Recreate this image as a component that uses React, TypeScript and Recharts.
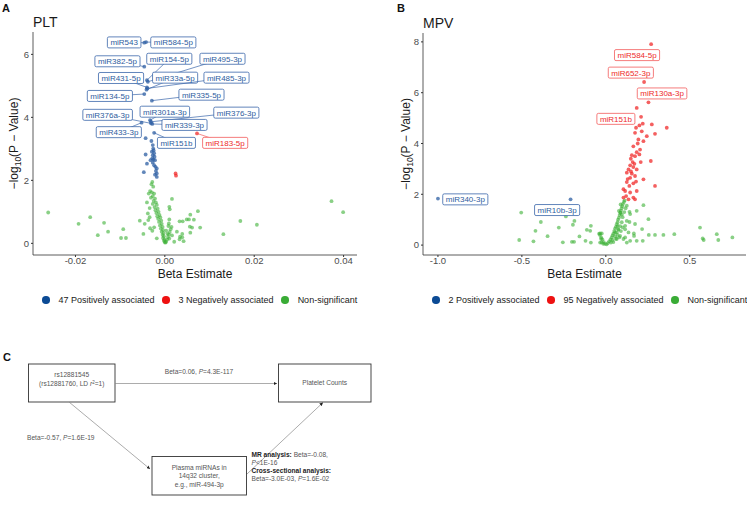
import React from "react";
import { ScatterChart, Scatter, XAxis, YAxis, Legend, Label } from "recharts";

const FONT = "'Liberation Sans', Arial, sans-serif";

// ---- PLT (panel A) ----
const PLT_POS: [number, number][] = [
  [-0.0046, 6.37], [-0.0042, 6.39], [-0.0046, 5.61], [-0.004, 5.18], [-0.0038, 5.13], [-0.004, 4.95],
  [-0.0041, 4.88], [-0.0039, 4.92], [-0.0046, 4.74], [-0.0029, 4.53], [-0.0033, 3.91], [-0.0031, 3.86],
  [-0.0031, 3.81], [-0.0028, 3.79], [-0.0052, 3.83], [-0.0024, 3.51], [-0.0043, 3.34], [-0.0027, 3.12],
  [-0.0026, 3.01], [-0.0029, 2.91], [-0.0024, 2.86], [-0.0027, 2.8], [-0.0023, 2.75], [-0.0026, 2.66],
  [-0.0022, 2.64], [-0.0027, 2.56], [-0.0024, 2.48], [-0.0021, 2.43], [-0.0018, 2.38], [-0.0018, 2.22],
  [-0.0018, 2.11], [-0.0047, 2.26], [-0.004, 2.53], [-0.0043, 2.82], [-0.0032, 2.64], [-0.003, 3.25],
  [-0.0025, 2.95], [-0.002, 2.3], [-0.0028, 2.7], [-0.0022, 2.18],
];
const PLT_NEG: [number, number][] = [[0.0024, 2.22], [0.0025, 2.15], [0.0072, 3.49]];
const PLT_NS: [number, number][] = [
  [-0.0261, 0.98], [-0.0193, 0.62], [-0.0167, 0.83], [-0.015, 0.26], [-0.0136, 0.65], [-0.0127, 0.37],
  [-0.0098, 0.17], [-0.0093, 0.45], [-0.0087, 0.17], [-0.0056, 0.72], [-0.0048, 0.3], [-0.0037, 0.74],
  [-0.0034, 0.83], [-0.0033, 0.48], [-0.0024, 0.51], [-0.0018, 0.16], [0.0016, 1.41], [0.0011, 1.08],
  [0.001, 0.76], [0.0009, 0.63], [0.0027, 0.37], [0.0021, 0.05], [0.0033, 0.7], [0.004, 0.7],
  [0.0034, 0.21], [0.0039, 0.19], [0.0042, 0.07], [0.0033, 0.13], [0.0039, 0.3], [0.0049, 0.76],
  [0.0054, 0.76], [0.0057, 0.91], [0.0065, 0.75], [0.0074, 1.02], [0.0056, 0.53], [0.0061, 0.5],
  [0.0079, 0.5], [0.0057, 0.34], [0.0131, 0.29], [0.0169, 0.71], [0.0206, 0.59], [0.0373, 1.34],
  [0.0399, 0.99],
  [-0.0028, 1.95], [-0.003, 1.88], [-0.0026, 1.8], [-0.0033, 1.66], [-0.0029, 1.62], [-0.0024, 1.58],
  [-0.0027, 1.5], [-0.0031, 1.45], [-0.0022, 1.42], [-0.0025, 1.35], [-0.002, 1.3], [-0.0027, 1.25],
  [-0.0018, 1.22], [-0.0023, 1.15], [-0.0016, 1.1], [-0.0021, 1.05], [-0.0014, 1.0], [-0.0019, 0.96],
  [-0.0012, 0.9], [-0.0017, 0.86], [-0.001, 0.82], [-0.0015, 0.78], [-0.0008, 0.72], [-0.0013, 0.68],
  [-0.0007, 0.62], [-0.0011, 0.57], [-0.0005, 0.52], [-0.0009, 0.47], [-0.0004, 0.42], [-0.0007, 0.37],
  [-0.0003, 0.32], [-0.0005, 0.27], [-0.0002, 0.22], [-0.0004, 0.17], [-0.0001, 0.12], [-0.0002, 0.08],
  [0.0, 0.04], [0.0001, 0.02], [-0.0036, 1.58], [-0.004, 1.3], [-0.0034, 1.12], [-0.0045, 0.62],
  [-0.0038, 0.95], [-0.0028, 0.4], [0.0003, 0.05], [0.0005, 0.12], [0.0007, 0.2], [0.0009, 0.28],
  [0.0011, 0.36], [0.0013, 0.45], [0.0015, 0.52], [0.0006, 0.3], [0.001, 0.15], [0.0016, 0.25],
  [0.0003, 0.4], [0.0008, 0.55], [0.001, 1.16],
];
const PLT_LABELS: { name: string; x: number; y: number; neg?: boolean }[] = [
  { name: "miR543", x: -0.0046, y: 6.37 },
  { name: "miR584-5p", x: -0.0042, y: 6.39 },
  { name: "miR382-5p", x: -0.0046, y: 5.61 },
  { name: "miR154-5p", x: -0.004, y: 5.18 },
  { name: "miR495-3p", x: -0.0038, y: 5.13 },
  { name: "miR431-5p", x: -0.004, y: 4.95 },
  { name: "miR33a-5p", x: -0.0041, y: 4.88 },
  { name: "miR485-3p", x: -0.0039, y: 4.92 },
  { name: "miR134-5p", x: -0.0046, y: 4.74 },
  { name: "miR335-5p", x: -0.0029, y: 4.53 },
  { name: "miR301a-3p", x: -0.0033, y: 3.91 },
  { name: "miR376-3p", x: -0.0031, y: 3.86 },
  { name: "miR376a-3p", x: -0.0031, y: 3.81 },
  { name: "miR339-3p", x: -0.0028, y: 3.79 },
  { name: "miR433-3p", x: -0.0052, y: 3.83 },
  { name: "miR151b", x: -0.0024, y: 3.51 },
  { name: "miR183-5p", x: 0.0072, y: 3.49, neg: true },
];
// where each label box sits (data units)
const PLT_LABEL_AT: Record<string, [number, number]> = {
  miR543: [-0.0091, 6.38], "miR584-5p": [0.0019, 6.38], "miR382-5p": [-0.0106, 5.78],
  "miR154-5p": [0.001, 5.86], "miR495-3p": [0.0129, 5.86], "miR431-5p": [-0.0098, 5.25],
  "miR33a-5p": [0.0023, 5.26], "miR485-3p": [0.0138, 5.26], "miR134-5p": [-0.0123, 4.68],
  "miR335-5p": [0.0082, 4.72], "miR301a-3p": [0.0, 4.18], "miR376-3p": [0.016, 4.15],
  "miR376a-3p": [-0.0128, 4.08], "miR339-3p": [0.0044, 3.76], "miR433-3p": [-0.0103, 3.53],
  miR151b: [0.0026, 3.19], "miR183-5p": [0.0135, 3.19],
};
const PLT_XTICKS = [-0.02, 0, 0.02, 0.04];
const PLT_YTICKS = [0, 2, 4, 6];

// ---- MPV (panel B) ----
const MPV_POS: [number, number][] = [[-1.0, 1.83], [-0.21, 1.8]];
const MPV_NEG: [number, number][] = [
  [0.27, 7.91], [0.228, 6.42], [0.254, 5.62], [0.184, 5.4], [0.21, 5.05], [0.22, 4.78], [0.2, 4.71],
  [0.18, 4.62], [0.274, 4.75], [0.363, 4.62], [0.293, 4.38], [0.174, 4.42], [0.194, 4.16], [0.224, 4.09],
  [0.164, 3.89], [0.204, 3.76], [0.184, 3.66], [0.155, 3.54], [0.174, 3.5], [0.2, 3.57], [0.149, 3.4],
  [0.268, 3.31], [0.145, 3.14], [0.164, 3.07], [0.184, 2.98], [0.125, 2.85], [0.155, 2.81], [0.174, 2.72],
  [0.145, 2.65], [0.224, 2.59], [0.125, 2.48], [0.164, 2.43], [0.14, 2.33], [0.293, 2.33], [0.115, 2.13],
  [0.145, 2.07], [0.121, 1.93], [0.164, 1.87], [0.174, 1.8], [0.135, 1.8], [0.105, 1.87], [0.244, 4.29],
  [0.214, 4.48], [0.135, 2.98], [0.105, 2.2], [0.184, 2.13], [0.208, 3.27], [0.16, 3.27], [0.19, 4.0],
  [0.17, 3.2], [0.15, 2.9], [0.13, 2.6], [0.18, 2.5],
];
const MPV_NS: [number, number][] = [
  [-0.504, 1.28], [-0.516, 0.2], [-0.431, 0.15], [-0.419, 0.56], [-0.387, 0.91], [-0.347, 0.35],
  [-0.28, 0.69], [-0.256, 0.11], [-0.238, 1.13], [-0.202, 0.13], [-0.189, 0.13], [-0.196, 0.8],
  [-0.187, 0.95], [-0.157, 0.34], [-0.121, 0.17], [-0.113, 0.6], [-0.093, 0.56], [-0.089, 0.76],
  [-0.089, 0.1], [-0.034, 0.46], [-0.024, 0.46], [-0.028, 0.24], [-0.034, 0.1], [0.167, 0.46],
  [0.168, 0.36], [0.184, 0.17], [0.216, 0.63], [0.22, 0.17], [0.254, 1.02], [0.256, 0.4], [0.293, 0.4],
  [0.343, 0.4], [0.408, 0.43], [0.561, 0.69], [0.577, 0.26], [0.583, 0.2], [0.661, 0.43], [0.67, 0.2],
  [0.754, 0.3], [0.141, 0.91], [0.141, 1.31], [0.184, 1.35], [0.115, 0.62], [0.125, 0.95], [0.135, 0.5],
  [0.087, 1.28], [0.065, 0.24], [0.085, 0.36], [0.075, 0.63], [0.055, 0.5], [0.105, 0.24], [0.125, 0.1],
  [0.145, 0.17], [0.224, 1.57], [0.115, 0.3], [0.145, 1.22], [0.174, 0.83], [0.115, 0.76],
  [0.005, 0.03], [0.012, 0.08], [0.02, 0.15], [0.028, 0.22], [0.035, 0.3], [0.04, 0.38], [0.045, 0.45],
  [0.05, 0.55], [0.055, 0.65], [0.06, 0.72], [0.065, 0.82], [0.07, 0.9], [0.073, 1.0], [0.078, 1.08],
  [0.082, 1.18], [0.086, 1.27], [0.09, 1.36], [0.094, 1.45], [0.098, 1.53], [0.102, 1.62], [0.108, 1.7],
  [0.112, 1.76], [0.04, 0.2], [0.055, 0.35], [0.065, 0.5], [0.075, 0.6], [0.085, 0.75], [0.095, 0.9],
  [0.1, 1.1], [0.11, 1.3], [0.118, 1.45], [0.125, 1.55], [0.03, 0.1], [0.045, 0.12], [0.06, 0.25],
  [0.07, 0.4], [0.08, 0.3], [0.09, 0.55], [0.1, 0.7], [0.07, 0.75], [0.078, 1.35], [0.088, 1.6],
  [0.095, 1.2], [-0.005, 0.05], [-0.012, 0.12], [-0.02, 0.22], [-0.028, 0.3], [-0.035, 0.4],
  [-0.04, 0.45], [-0.015, 0.05], [-0.025, 0.1],
];
const MPV_LABELS: { name: string; x: number; y: number; neg?: boolean }[] = [
  { name: "miR584-5p", x: 0.27, y: 7.91, neg: true },
  { name: "miR652-3p", x: 0.228, y: 6.42, neg: true },
  { name: "miR130a-3p", x: 0.254, y: 5.62, neg: true },
  { name: "miR151b", x: 0.184, y: 5.4, neg: true },
  { name: "miR340-3p", x: -1.0, y: 1.83 },
  { name: "miR10b-3p", x: -0.21, y: 1.8 },
];
const MPV_LABEL_AT: Record<string, [number, number]> = {
  "miR584-5p": [0.186, 7.48], "miR652-3p": [0.149, 6.79], "miR130a-3p": [0.335, 5.97],
  miR151b: [0.06, 4.97], "miR340-3p": [-0.837, 1.8], "miR10b-3p": [-0.29, 1.38],
};
const MPV_XTICKS = [-1.0, -0.5, 0, 0.5];
const MPV_YTICKS = [0, 2, 4, 6, 8];

const BLUE = "#2d5fa3";
const RED = "#f02b2b";
const GREEN = "#3cb035";
const LEG = { pos: "#0b4a94", neg: "#ee1111", ns: "#3aac36" };

const toPts = (a: [number, number][]) => a.map(([x, y]) => ({ x, y }));

const dot = (color: string, op: number) => (p: any) => (
  <circle cx={p.cx} cy={p.cy} r={1.9} fill={color} fillOpacity={op} />
);

const CW: Record<string, number> = { m: 0.833, i: 0.222, R: 0.722, "-": 0.333 };
const textW = (s: string, fs: number) => s.split("").reduce((w, c) => w + (CW[c] ?? 0.556) * fs, 0);

const labelBox = (p: any) => {
  const d = p.payload;
  if (!d || !d.name) return <g />;
  const neg = d.neg;
  const w = textW(d.name, 8) + 6;
  return (
    <g>
      <rect x={p.cx - w / 2} y={p.cy - 5.5} width={w} height={11} rx={1.5} fill="#fff"
            stroke={neg ? "#f25a5a" : "#3a66aa"} strokeWidth={0.8} />
      <text x={p.cx} y={p.cy + 2.9} textAnchor="middle" fontSize={8} fontFamily={FONT}
            fill={neg ? "#ee2a2a" : "#2e5c9e"}>{d.name}</text>
    </g>
  );
};

const YTitle = ({ viewBox, bx }: any) => {
  const cy = viewBox.y + viewBox.height / 2;
  return (
    <text transform={`translate(${bx},${cy}) rotate(-90)`} textAnchor="middle" fontSize={12}
          fill="#1a1a1a" fontFamily={FONT}>
      −log<tspan fontSize={8.5} dy={3}>10</tspan><tspan dy={-3}>(P − Value)</tspan>
    </text>
  );
};

// legend drawn in the order blue, red, green whatever order the payload arrives in
const legendContent = (padLeft: number, order: string[]) => (props: any) => {
  const items = (props.payload || []).filter((e: any) => e.type !== "none");
  const sorted = order.map((n) => items.find((e: any) => e.value === n)).filter(Boolean);
  return (
    <div style={{ display: "flex", alignItems: "center", height: 30, paddingLeft: padLeft, fontFamily: FONT,
                  fontSize: 9, color: "#1a1a1a", whiteSpace: "nowrap" }}>
      {sorted.map((e: any) => (
        <span key={e.value} style={{ display: "flex", alignItems: "center", marginRight: 7.5, flexShrink: 0 }}>
          <span style={{ width: 7.5, height: 7.5, borderRadius: "50%", background: e.color, marginRight: 9 }} />
          {e.value}
        </span>
      ))}
    </div>
  );
};

interface VolcanoProps {
  pos: [number, number][];
  neg: [number, number][];
  ns: [number, number][];
  labels: { name: string; x: number; y: number; neg?: boolean }[];
  labelAt: Record<string, [number, number]>;
  names: [string, string];
  xDomain: [number, number];
  yDomain: [number, number];
  xTicks: number[];
  yTicks: number[];
  xFmt: (v: number) => string;
  width: number;
  margin: { top: number; right: number; left: number; bottom: number };
  titleX: number;
  legendPad: number;
  segments: boolean;
}

function Volcano(props: VolcanoProps) {
  const { labels, labelAt } = props;
  const order = [props.names[0], props.names[1], "Non-significant"];
  return (
    <ScatterChart width={props.width} height={315} margin={props.margin}>
      <XAxis type="number" dataKey="x" domain={props.xDomain} ticks={props.xTicks} allowDataOverflow
             tickFormatter={props.xFmt} height={30} tickSize={2} tickMargin={0}
             axisLine={{ stroke: "#333", strokeWidth: 0.8 }} tickLine={{ stroke: "#333" }}
             tick={{ fontSize: 9.5, fill: "#4d4d4d", fontFamily: FONT }}>
        <Label value="Beta Estimate" position="insideBottom" offset={7} fontSize={12}
               fill="#1a1a1a" fontFamily={FONT} />
      </XAxis>
      <YAxis type="number" dataKey="y" domain={props.yDomain} ticks={props.yTicks} allowDataOverflow
             width={33} tickSize={2} tickMargin={2}
             axisLine={{ stroke: "#333", strokeWidth: 0.8 }} tickLine={{ stroke: "#333" }}
             tick={{ fontSize: 9.5, fill: "#4d4d4d", fontFamily: FONT }}>
        <Label content={(lp: any) => <YTitle viewBox={lp.viewBox} bx={props.titleX} />} />
      </YAxis>
      <Legend verticalAlign="bottom" height={30} content={legendContent(props.legendPad, order)}
              wrapperStyle={{ left: 0, top: 285, width: props.width + 10, height: 30 }} />
      <Scatter name="Non-significant" data={toPts(props.ns)} fill={LEG.ns} shape={dot(GREEN, 0.6)}
               isAnimationActive={false} legendType="circle" />
      <Scatter name={props.names[0]} data={toPts(props.pos)} fill={LEG.pos} shape={dot(BLUE, 0.75)}
               isAnimationActive={false} legendType="circle" />
      <Scatter name={props.names[1]} data={toPts(props.neg)} fill={LEG.neg} shape={dot(RED, 0.75)}
               isAnimationActive={false} legendType="circle" />
      {labels.map((l) => (
        <Scatter key={l.name} name={"lab-" + l.name} legendType="none" isAnimationActive={false}
                 data={[{ x: l.x, y: l.y }, { x: labelAt[l.name][0], y: labelAt[l.name][1], name: l.name, neg: l.neg }]}
                 line={props.segments ? { stroke: l.neg ? "#f25a5a" : "#3a66aa", strokeWidth: 0.7 } : false}
                 shape={labelBox} />
      ))}
    </ScatterChart>
  );
}

const PanelC = () => {
  const tx = { fontFamily: FONT, fontSize: 6.6, fill: "#555" };
  return (
    <g transform="translate(0,340)">
      <defs>
        <marker id="arr" viewBox="0 0 10 10" refX="10" refY="5" markerWidth="5" markerHeight="5" orient="auto">
          <path d="M0,0 L10,5 L0,10 z" fill="#222" />
        </marker>
      </defs>
      <text x={3} y={21} fontFamily={FONT} fontSize={11} fontWeight="bold" fill="#111">C</text>
      <rect x={28.5} y={24} width={86.5} height={38} fill="none" stroke="#333" strokeWidth={0.9} />
      <text {...tx} x={71.7} y={37} textAnchor="middle">rs12881545</text>
      <text {...tx} x={71.7} y={46} textAnchor="middle">
        (rs12881760, LD <tspan fontStyle="italic">r</tspan><tspan fontSize={4.5} dy={-2.5}>2</tspan><tspan dy={2.5}>=1)</tspan>
      </text>
      <rect x={278.5} y={24} width={92.5} height={38} fill="none" stroke="#333" strokeWidth={0.9} />
      <text {...tx} x={324.7} y={45} textAnchor="middle">Platelet Counts</text>
      <rect x={152} y={116.5} width={94.5} height={38.5} fill="none" stroke="#333" strokeWidth={0.9} />
      <text {...tx} x={199.2} y={130} textAnchor="middle">Plasma miRNAs in</text>
      <text {...tx} x={199.2} y={138.3} textAnchor="middle">14q32 cluster,</text>
      <text {...tx} x={199.2} y={146.6} textAnchor="middle">e.g., miR-494-3p</text>
      <line x1={115} y1={43.5} x2={277} y2={43.5} stroke="#888" strokeWidth={0.7} markerEnd="url(#arr)" />
      <line x1={69} y1={62} x2={150} y2={129} stroke="#888" strokeWidth={0.7} markerEnd="url(#arr)" />
      <line x1={247} y1={134} x2={323} y2={62.5} stroke="#888" strokeWidth={0.7} markerEnd="url(#arr)" />
      <text {...tx} x={199} y={34} textAnchor="middle">
        Beta=0.06, <tspan fontStyle="italic">P</tspan>=4.3E-117
      </text>
      <text {...tx} x={27} y={100}>
        Beta=-0.57, <tspan fontStyle="italic">P</tspan>=1.6E-19
      </text>
      <text {...tx} x={251.5} y={117}>
        <tspan fontWeight="bold" fill="#222">MR analysis:</tspan> Beta=-0.08,
      </text>
      <text {...tx} x={251.5} y={125}><tspan fontStyle="italic">P</tspan>&lt;1E-16</text>
      <text {...tx} x={251.5} y={133} fontWeight="bold" fill="#222">Cross-sectional analysis:</text>
      <text {...tx} x={251.5} y={141}>
        Beta=-3.0E-03, <tspan fontStyle="italic">P</tspan>=1.6E-02
      </text>
    </g>
  );
};

export default function App() {
  return (
    <div style={{ position: "absolute", left: 0, top: 0, width: 747, height: 508, background: "#fff", overflow: "hidden" }}>
      <div style={{ position: "absolute", left: 0, top: 0 }}>
        <Volcano pos={PLT_POS} neg={PLT_NEG} ns={PLT_NS} labels={PLT_LABELS} labelAt={PLT_LABEL_AT}
                 names={["47 Positively associated", "3 Negatively associated"]}
                 xDomain={[-0.0295, 0.043]} yDomain={[-0.37, 6.71]} xTicks={PLT_XTICKS} yTicks={PLT_YTICKS}
                 xFmt={(v) => v.toFixed(2)} width={370} margin={{ top: 32, right: 13, left: 0, bottom: 0 }}
                 titleX={18} legendPad={42} segments={true} />
      </div>
      <div style={{ position: "absolute", left: 370, top: 0 }}>
        <Volcano pos={MPV_POS} neg={MPV_NEG} ns={MPV_NS} labels={MPV_LABELS} labelAt={MPV_LABEL_AT}
                 names={["2 Positively associated", "95 Negatively associated"]}
                 xDomain={[-1.089, 0.835]} yDomain={[-0.39, 8.35]} xTicks={MPV_XTICKS} yTicks={MPV_YTICKS}
                 xFmt={(v) => v.toFixed(1)} width={377} margin={{ top: 33, right: 1, left: 20, bottom: 0 }}
                 titleX={40} legendPad={62} segments={false} />
      </div>
      <svg width={747} height={508} style={{ position: "absolute", left: 0, top: 0, pointerEvents: "none" }}>
        <text x={2} y={12} fontFamily={FONT} fontSize={11} fontWeight="bold" fill="#111">A</text>
        <text x={33} y={26.5} fontFamily={FONT} fontSize={14} fill="#1a1a1a">PLT</text>
        <text x={397} y={12} fontFamily={FONT} fontSize={11} fontWeight="bold" fill="#111">B</text>
        <text x={423} y={27.5} fontFamily={FONT} fontSize={14} fill="#1a1a1a">MPV</text>
        <PanelC />
      </svg>
    </div>
  );
}
